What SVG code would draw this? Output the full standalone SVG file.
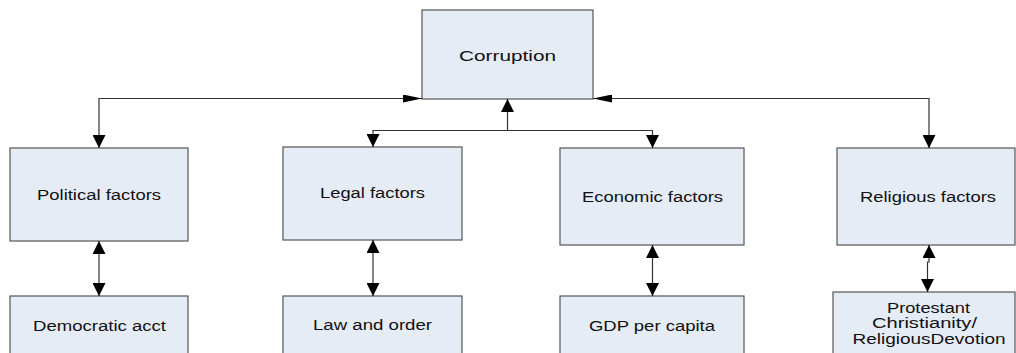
<svg xmlns="http://www.w3.org/2000/svg" width="1016" height="353" viewBox="0 0 1016 353">
<style>
.box{fill:#E5ECF6;stroke:#555;stroke-width:1.2}
.lbl{font-family:"Liberation Sans",Arial,sans-serif;font-size:15.5px;fill:#111;text-anchor:middle}
.con{fill:none;stroke:#333;stroke-width:1.2}
</style>
<defs>
<marker id="av" viewBox="0 0 13 13" refX="13" refY="6.5" markerWidth="13" markerHeight="13" markerUnits="userSpaceOnUse" orient="auto-start-reverse"><path d="M0,0 L13,6.5 L0,13 z" fill="#000"/></marker>
<marker id="ah" viewBox="0 0 19 8" refX="19" refY="4" markerWidth="19" markerHeight="8" markerUnits="userSpaceOnUse" orient="auto-start-reverse"><path d="M0,0 L19,4 L0,8 z" fill="#000"/></marker>
</defs>
<rect width="1016" height="353" fill="#fff"/>
<g id="corruption"><rect class="box" x="422" y="10" width="171" height="89"/><text class="lbl" x="507.5" y="61" textLength="97" lengthAdjust="spacingAndGlyphs">Corruption</text></g>
<g id="political"><rect class="box" x="10" y="148" width="178" height="93"/><text class="lbl" x="99" y="200" textLength="124" lengthAdjust="spacingAndGlyphs">Political factors</text></g>
<g id="legal"><rect class="box" x="283" y="147" width="179" height="93"/><text class="lbl" x="372.5" y="198" textLength="105" lengthAdjust="spacingAndGlyphs">Legal factors</text></g>
<g id="economic"><rect class="box" x="560" y="148" width="184" height="97"/><text class="lbl" x="652.5" y="202" textLength="141" lengthAdjust="spacingAndGlyphs">Economic factors</text></g>
<g id="religious"><rect class="box" x="837" y="148" width="178" height="97"/><text class="lbl" x="928" y="202" textLength="136" lengthAdjust="spacingAndGlyphs">Religious factors</text></g>
<g id="democratic"><rect class="box" x="10" y="296" width="178" height="80"/><text class="lbl" x="99.5" y="331" textLength="133" lengthAdjust="spacingAndGlyphs">Democratic acct</text></g>
<g id="law"><rect class="box" x="283" y="296" width="179" height="80"/><text class="lbl" x="372.5" y="330" textLength="119" lengthAdjust="spacingAndGlyphs">Law and order</text></g>
<g id="gdp"><rect class="box" x="560" y="296" width="184" height="80"/><text class="lbl" x="652" y="331" textLength="126" lengthAdjust="spacingAndGlyphs">GDP per capita</text></g>
<g id="protestant"><rect class="box" x="833" y="292" width="182" height="80"/>
<text class="lbl" x="928.5" y="313" textLength="83" lengthAdjust="spacingAndGlyphs">Protestant</text>
<text class="lbl" x="924.5" y="328" textLength="105" lengthAdjust="spacingAndGlyphs">Christianity/</text>
<text class="lbl" x="929" y="343.5" textLength="153" lengthAdjust="spacingAndGlyphs">ReligiousDevotion</text></g>
<g id="connectors">
<path class="con" d="M422,98.5 H99 V148" marker-start="url(#ah)" marker-end="url(#av)"/>
<path class="con" d="M593,98.5 H929 V148" marker-start="url(#ah)" marker-end="url(#av)"/>
<path class="con" d="M507.5,99 V130.5 H373 V147" marker-start="url(#av)" marker-end="url(#av)"/>
<path class="con" d="M507.5,130.5 H652.5 V148" marker-end="url(#av)"/>
<path class="con" d="M99,241 V296" marker-start="url(#av)" marker-end="url(#av)"/>
<path class="con" d="M373,240 V296" marker-start="url(#av)" marker-end="url(#av)"/>
<path class="con" d="M652.5,245 V296" marker-start="url(#av)" marker-end="url(#av)"/>
<path class="con" d="M929,245 V262 H927.5 V292" marker-start="url(#av)" marker-end="url(#av)"/>
</g>
</svg>
